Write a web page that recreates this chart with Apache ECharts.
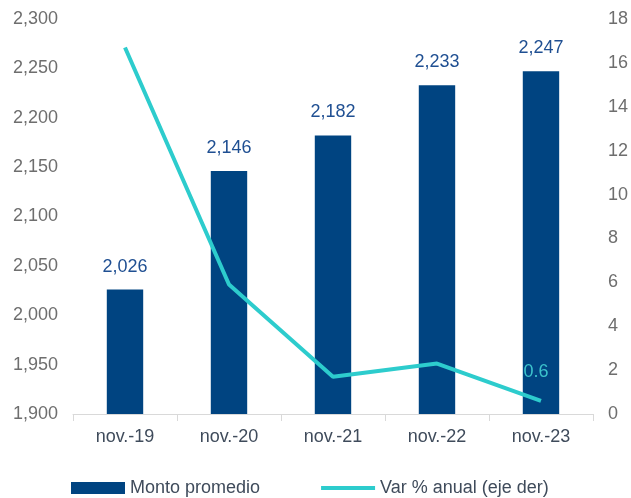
<!DOCTYPE html>
<html>
<head>
<meta charset="utf-8">
<script src="https://cdn.jsdelivr.net/npm/echarts@6/dist/echarts.min.js"></script>
<style>
html,body{margin:0;padding:0;background:#fff;}
#chart{width:631px;height:498px;}
</style>
</head>
<body>
<div id="chart"></div>
<script>
var categories = ['nov.-19', 'nov.-20', 'nov.-21', 'nov.-22', 'nov.-23'];
var montoPromedio = [2026, 2146, 2182, 2233, 2247];
var varAnual = [16.7, 5.9, 1.7, 2.3, 0.6];
var seriesNames = ['Monto promedio', 'Var % anual (eje der)'];

var FONT = '"Liberation Sans", Arial, sans-serif';
var chart = echarts.init(document.getElementById('chart'), null, {renderer: 'canvas'});

var lastIndex = varAnual.length - 1;

chart.setOption({
  animation: false,
  backgroundColor: '#ffffff',
  textStyle: {fontFamily: FONT},
  grid: {left: 73, right: 36, top: 19, bottom: 84, containLabel: false},
  legend: {
    left: 66,
    top: 474,
    itemGap: 61,
    itemWidth: 54,
    itemHeight: 12,
    textStyle: {fontFamily: FONT, fontSize: 18, color: '#3f4b5b'},
    data: [
      {name: seriesNames[0], icon: 'rect'},
      {name: seriesNames[1], icon: 'path://M0,0 L54,0 L54,4 L0,4 Z', itemStyle: {color: '#2dcccd', opacity: 1}}
    ]
  },
  xAxis: {
    type: 'category',
    data: categories,
    boundaryGap: true,
    axisLine: {show: true, lineStyle: {color: '#d9d9d9', width: 1}},
    axisTick: {show: true, length: 7, lineStyle: {color: '#d9d9d9'}},
    axisLabel: {fontFamily: FONT, fontSize: 18, color: '#3f4b5b', margin: 14},
    splitLine: {show: false}
  },
  yAxis: [
    {
      type: 'value',
      min: 1900,
      max: 2300,
      interval: 50,
      axisLine: {show: false},
      axisTick: {show: false},
      splitLine: {show: false},
      axisLabel: {
        fontFamily: FONT, fontSize: 18, color: '#6e6e6e', margin: 15,
        formatter: function (v) { return v.toLocaleString('en-US'); }
      }
    },
    {
      type: 'value',
      min: 0,
      max: 18,
      interval: 2,
      axisLine: {show: false},
      axisTick: {show: false},
      splitLine: {show: false},
      axisLabel: {fontFamily: FONT, fontSize: 18, color: '#6e6e6e', margin: 15}
    }
  ],
  series: [
    {
      name: seriesNames[0],
      type: 'bar',
      yAxisIndex: 0,
      data: montoPromedio,
      barWidth: '35%',
      itemStyle: {color: '#004481'},
      label: {
        show: true,
        position: 'top',
        distance: 14,
        fontFamily: FONT,
        fontSize: 18,
        color: '#1f4f92',
        formatter: function (p) { return p.value.toLocaleString('en-US'); }
      }
    },
    {
      name: seriesNames[1],
      type: 'line',
      yAxisIndex: 1,
      data: varAnual,
      symbol: 'circle',
      symbolSize: 1,
      showSymbol: true,
      lineStyle: {color: '#2dcccd', width: 4},
      itemStyle: {color: 'rgba(0,0,0,0)', borderWidth: 0},
      label: {
        show: true,
        position: 'top',
        distance: 19,
        offset: [-5, 0],
        fontFamily: FONT,
        fontSize: 18,
        color: '#3cc3cc',
        formatter: function (p) { return p.dataIndex === lastIndex ? String(p.value) : ''; }
      },
      z: 5
    }
  ]
});
</script>
</body>
</html>
